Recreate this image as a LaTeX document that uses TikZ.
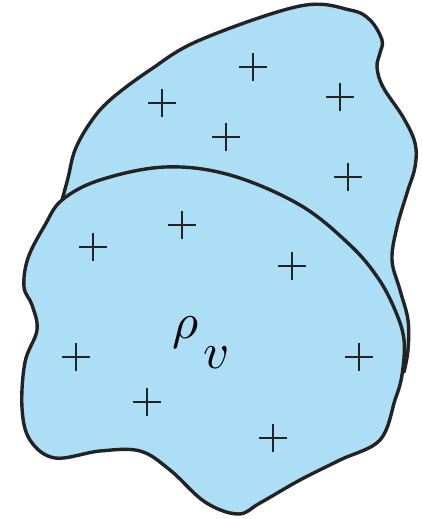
\documentclass[tikz,border=0pt]{standalone}
\usepackage{amsmath}
\usepackage{tikz}
\usepackage{xcolor}
\definecolor{cSkin}{RGB}{172,222,246}
\definecolor{cRim}{RGB}{35,35,35}
\tikzset{
	skin/.style  ={fill=cSkin},
	rim/.style   ={draw=cRim, line width=2.9pt, line join=round, line cap=round},
	charge/.style={draw=cRim, line width=1.9pt},
}
% outline of the rear lobe (left junction, over the top, down the right side)
\def\backrim{plot[smooth, tension=0.6] coordinates {(62,200) (68,178) (75,150) (90,123) (110,100) (150,70) (200,40) (300,6) (350,10) (370,20) (382,40) (380,53) (377,67) (383,87) (403,117) (415,143) (415,167) (407,193) (397,227) (392,260) (400,290) (408,320) (408,350) (404,372)}}

\begin{document}
\begin{tikzpicture}[x=0.03cm, y=-0.03cm]
	\useasboundingbox (0,0) rectangle (423,519);
	% rear lobe
	\fill[skin] \backrim -- cycle;
	\draw[rim] \backrim;
	% front lobe
	\filldraw[skin, rim] plot[smooth cycle, tension=0.6] coordinates {(62,200) (100,180) (165,167) (230,175) (300,205) (350,245) (378,278) (395,310) (404,340) (402,375) (395,400) (380,440) (340,460) (300,480) (260,503) (238,514) (205,502) (170,470) (140,451) (100,451) (55,458) (30,440) (22,408) (25,362) (37,330) (32,305) (24,287) (28,258) (45,225)};
	% charges
	\foreach \cx/\cy in {253/67, 162/103, 340/97, 226/137, 348/177, 182/225, 93/247, 292/266, 76/357, 147/402, 359/357, 273/438}
		\draw[charge] (\cx-14,\cy) -- (\cx+14,\cy) (\cx,\cy-14) -- (\cx,\cy+14);
	% density label
	\node[scale=4.3, inner sep=0pt, anchor=base west] (rho) at (171,338) {$\rho\mkern2mu\raisebox{-0.6em}{$v$}$};
\end{tikzpicture}
\end{document}
